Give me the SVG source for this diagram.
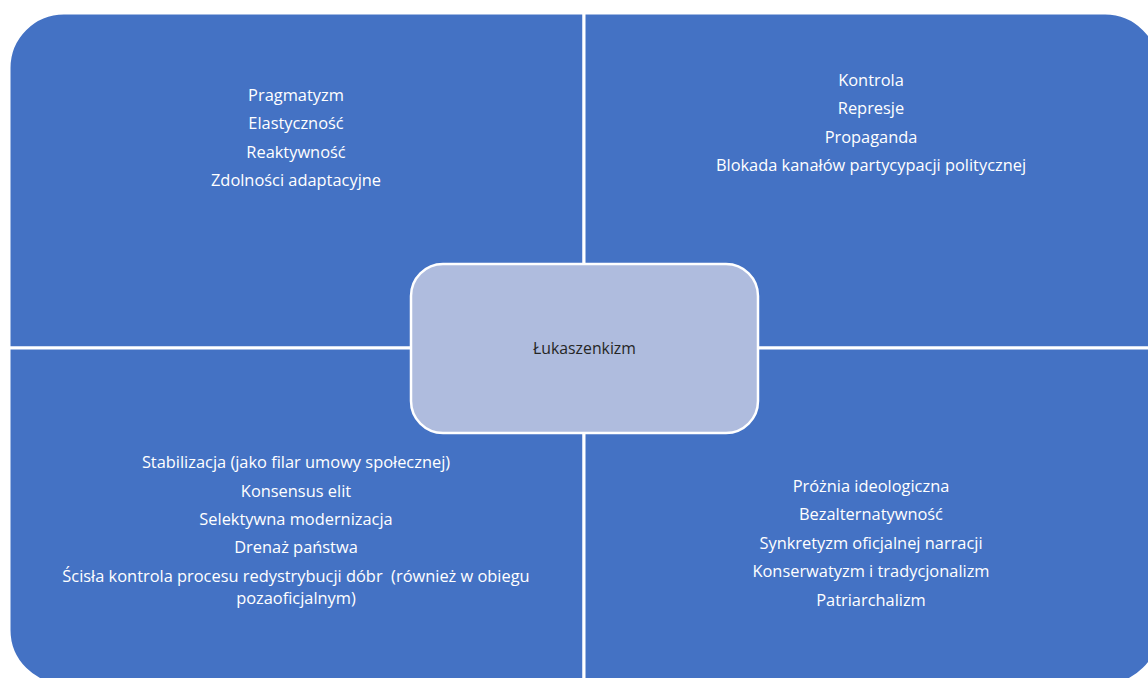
<svg xmlns="http://www.w3.org/2000/svg" width="1148" height="678" viewBox="0 0 1148 678">
<style>
.q{fill:#4472C4;stroke:#FFFFFF;stroke-width:3}
.t{font-family:"Open Sans","Liberation Sans",Arial,sans-serif;font-size:16.4px;fill:#FFFFFF;text-anchor:middle;white-space:pre}
.c{font-family:"Open Sans","Liberation Sans",Arial,sans-serif;font-size:15.8px;fill:#262626;text-anchor:middle}
</style>
<rect width="1148" height="678" fill="#FFFFFF"/>
<g id="q-top-left">
<path class="q" d="M9,348 V68 A55,55 0 0 1 64,13 H584 V348 Z"/>
<text class="t" x="296" y="101">Pragmatyzm</text>
<text class="t" x="296" y="129">Elastyczność</text>
<text class="t" x="296" y="158">Reaktywność</text>
<text class="t" x="296" y="186">Zdolności adaptacyjne</text>
</g>
<g id="q-top-right">
<path class="q" d="M584,13 H1105 A55,55 0 0 1 1160,68 V348 H584 Z"/>
<text class="t" x="871" y="86">Kontrola</text>
<text class="t" x="871" y="114">Represje</text>
<text class="t" x="871" y="143">Propaganda</text>
<text class="t" x="871" y="171">Blokada kanałów partycypacji politycznej</text>
</g>
<g id="q-bottom-left">
<path class="q" d="M9,348 H584 V685 H64 A55,55 0 0 1 9,630 Z"/>
<text class="t" x="296" y="468">Stabilizacja (jako filar umowy społecznej)</text>
<text class="t" x="296" y="497">Konsensus elit</text>
<text class="t" x="296" y="525">Selektywna modernizacja</text>
<text class="t" x="296" y="553">Drenaż państwa</text>
<text class="t" x="296" y="582">Ścisła kontrola procesu redystrybucji dóbr  (również w obiegu</text>
<text class="t" x="296" y="604">pozaoficjalnym)</text>
</g>
<g id="q-bottom-right">
<path class="q" d="M584,348 H1160 V630 A55,55 0 0 1 1105,685 H584 Z"/>
<text class="t" x="871" y="492">Próżnia ideologiczna</text>
<text class="t" x="871" y="520">Bezalternatywność</text>
<text class="t" x="871" y="549">Synkretyzm oficjalnej narracji</text>
<text class="t" x="871" y="577">Konserwatyzm i tradycjonalizm</text>
<text class="t" x="871" y="606">Patriarchalizm</text>
</g>
<g id="center">
<rect x="411" y="264" width="347" height="169" rx="32" ry="32" fill="#AFBCDE" stroke="#FFFFFF" stroke-width="2.5"/>
<text class="c" x="584.5" y="354">Łukaszenkizm</text>
</g>
<g id="connectors"></g>
</svg>
